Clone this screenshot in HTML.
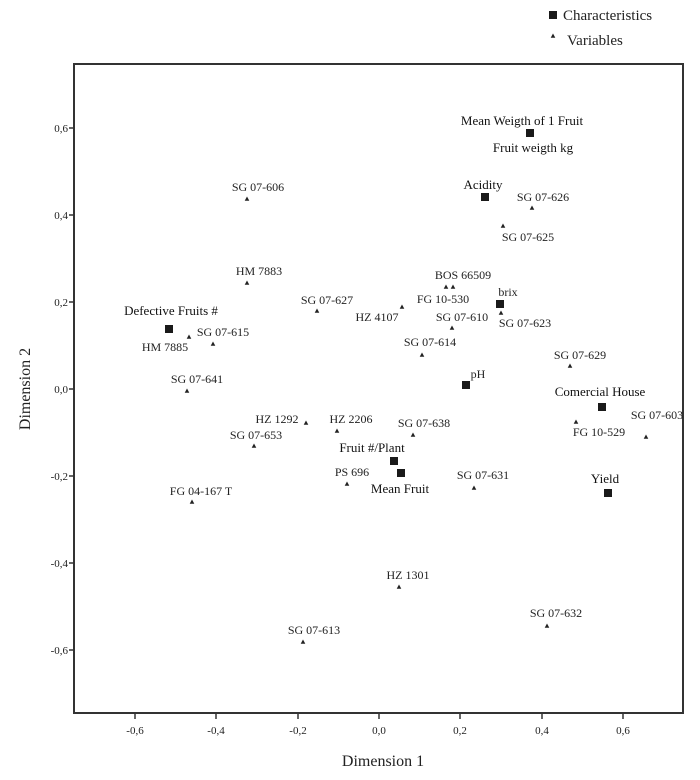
<!DOCTYPE html>
<html><head><meta charset="utf-8"><style>
html,body{margin:0;padding:0;background:#fff;}
svg{display:block;font-family:"Liberation Serif",serif;}
.v{font-size:12px;fill:#222;text-anchor:middle;}
.c{font-size:13px;fill:#111;text-anchor:middle;}
.t{font-size:11px;fill:#222;}
</style></head><body>
<svg width="700" height="780" viewBox="0 0 700 780" xmlns="http://www.w3.org/2000/svg">
<defs>
<path id="tr" d="M0,-2.5 L2.3,1.8 L-2.3,1.8 Z" fill="#222"/>
<rect id="sq" x="-4" y="-4" width="8" height="8" fill="#1a1a1a"/>
</defs>
<!-- legend -->
<use href="#sq" x="553" y="15"/>
<text x="563" y="20" font-size="15" fill="#222">Characteristics</text>
<use href="#tr" x="553" y="36"/>
<text x="567" y="45" font-size="15" fill="#222">Variables</text>
<!-- frame -->
<rect x="74" y="64" width="609" height="649" fill="none" stroke="#333" stroke-width="2"/>
<!-- y ticks -->
<g stroke="#333" stroke-width="1.5">
<line x1="69" y1="128" x2="74" y2="128"/><line x1="69" y1="215" x2="74" y2="215"/>
<line x1="69" y1="302" x2="74" y2="302"/><line x1="69" y1="389" x2="74" y2="389"/>
<line x1="69" y1="476" x2="74" y2="476"/><line x1="69" y1="563" x2="74" y2="563"/>
<line x1="69" y1="650" x2="74" y2="650"/>
<line x1="135" y1="713" x2="135" y2="719"/><line x1="216" y1="713" x2="216" y2="719"/>
<line x1="298" y1="713" x2="298" y2="719"/><line x1="379" y1="713" x2="379" y2="719"/>
<line x1="460" y1="713" x2="460" y2="719"/><line x1="542" y1="713" x2="542" y2="719"/>
<line x1="623" y1="713" x2="623" y2="719"/>
</g>
<g class="t" text-anchor="end">
<text x="68" y="132">0,6</text><text x="68" y="219">0,4</text><text x="68" y="306">0,2</text>
<text x="68" y="393">0,0</text><text x="68" y="480">-0,2</text><text x="68" y="567">-0,4</text>
<text x="68" y="654">-0,6</text>
</g>
<g class="t" text-anchor="middle">
<text x="135" y="734">-0,6</text><text x="216" y="734">-0,4</text><text x="298" y="734">-0,2</text>
<text x="379" y="734">0,0</text><text x="460" y="734">0,2</text><text x="542" y="734">0,4</text>
<text x="623" y="734">0,6</text>
</g>
<text x="383" y="766" font-size="16" fill="#222" text-anchor="middle">Dimension 1</text>
<text transform="translate(30,389) rotate(-90)" font-size="16" fill="#222" text-anchor="middle">Dimension 2</text>

<!-- characteristics -->
<use href="#sq" x="530" y="133"/><text class="c" x="522" y="125">Mean Weigth of 1 Fruit</text>
<text class="c" x="533" y="152">Fruit weigth kg</text>
<use href="#sq" x="485" y="197"/><text class="c" x="483" y="189">Acidity</text>
<use href="#sq" x="500" y="304"/><text class="v" x="508" y="296">brix</text>
<use href="#sq" x="466" y="385"/><text class="v" x="478" y="378">pH</text>
<use href="#sq" x="169" y="329"/><text class="c" x="171" y="315">Defective Fruits #</text>
<use href="#sq" x="602" y="407"/><text class="c" x="600" y="396">Comercial House</text>
<use href="#sq" x="608" y="493"/><text class="c" x="605" y="483">Yield</text>
<use href="#sq" x="394" y="461"/><text class="c" x="372" y="452">Fruit #/Plant</text>
<use href="#sq" x="401" y="473"/><text class="c" x="400" y="493">Mean Fruit</text>

<!-- variables -->
<g>
<use href="#tr" x="247" y="199"/><text class="v" x="258" y="191">SG 07-606</text>
<use href="#tr" x="532" y="208"/><text class="v" x="543" y="201">SG 07-626</text>
<use href="#tr" x="503" y="226"/><text class="v" x="528" y="241">SG 07-625</text>
<use href="#tr" x="247" y="283"/><text class="v" x="259" y="275">HM 7883</text>
<use href="#tr" x="446" y="287"/><use href="#tr" x="453" y="287"/><text class="v" x="463" y="279">BOS 66509</text>
<text class="v" x="443" y="303">FG 10-530</text>
<use href="#tr" x="402" y="307"/><text class="v" x="377" y="321">HZ 4107</text>
<use href="#tr" x="317" y="311"/><text class="v" x="327" y="304">SG 07-627</text>
<use href="#tr" x="452" y="328"/><text class="v" x="462" y="321">SG 07-610</text>
<use href="#tr" x="501" y="313"/><text class="v" x="525" y="327">SG 07-623</text>
<use href="#tr" x="213" y="344"/><text class="v" x="223" y="336">SG 07-615</text>
<use href="#tr" x="189" y="337"/><text class="v" x="165" y="351">HM 7885</text>
<use href="#tr" x="422" y="355"/><text class="v" x="430" y="346">SG 07-614</text>
<use href="#tr" x="570" y="366"/><text class="v" x="580" y="359">SG 07-629</text>
<use href="#tr" x="187" y="391"/><text class="v" x="197" y="383">SG 07-641</text>
<use href="#tr" x="306" y="423"/><text class="v" x="277" y="423">HZ 1292</text>
<use href="#tr" x="337" y="431"/><text class="v" x="351" y="423">HZ 2206</text>
<use href="#tr" x="254" y="446"/><text class="v" x="256" y="439">SG 07-653</text>
<use href="#tr" x="413" y="435"/><text class="v" x="424" y="427">SG 07-638</text>
<use href="#tr" x="576" y="422"/><text class="v" x="599" y="436">FG 10-529</text>
<use href="#tr" x="646" y="437"/><text class="v" x="657" y="419">SG 07-603</text>
<use href="#tr" x="347" y="484"/><text class="v" x="352" y="476">PS 696</text>
<use href="#tr" x="474" y="488"/><text class="v" x="483" y="479">SG 07-631</text>
<use href="#tr" x="192" y="502"/><text class="v" x="201" y="495">FG 04-167 T</text>
<use href="#tr" x="399" y="587"/><text class="v" x="408" y="579">HZ 1301</text>
<use href="#tr" x="547" y="626"/><text class="v" x="556" y="617">SG 07-632</text>
<use href="#tr" x="303" y="642"/><text class="v" x="314" y="634">SG 07-613</text>
</g>
</svg>
</body></html>
